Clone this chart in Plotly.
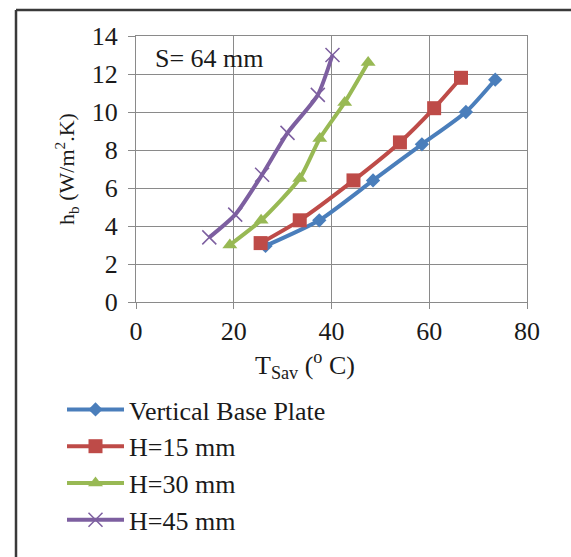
import plotly.graph_objects as go

series_names = ["Vertical Base Plate", "H=15 mm", "H=30 mm", "H=45 mm"]
x_vbp = [26.5, 37.5, 48.5, 58.5, 67.5, 73.5]
y_vbp = [2.95, 4.3, 6.4, 8.3, 10.0, 11.7]
x_h15 = [25.5, 33.5, 44.5, 54.0, 61.0, 66.5]
y_h15 = [3.1, 4.3, 6.4, 8.4, 10.2, 11.8]
x_h30 = [19.2, 25.6, 33.5, 37.6, 42.7, 47.5]
y_h30 = [3.0, 4.3, 6.5, 8.6, 10.5, 12.6]
x_h45 = [15.0, 20.3, 25.8, 31.0, 37.2, 40.2]
y_h45 = [3.4, 4.6, 6.7, 8.9, 10.9, 13.0]

x_ticks = [0, 20, 40, 60, 80]
y_ticks = [0, 2, 4, 6, 8, 10, 12, 14]
x_title = "T<sub>Sav</sub> (<sup>o</sup> C)"
y_title = "h<sub>b</sub> (W/m<sup>2</sup>.K)"
note = "S= 64 mm"

colors = ["#4A7EBB", "#BE4B48", "#98B954", "#7D5FA0"]
symbols = ["diamond", "square", "triangle-up", "x-thin-open"]
sizes = [11, 14, 13, 14]

fig = go.Figure()
data = [(x_vbp, y_vbp), (x_h15, y_h15), (x_h30, y_h30), (x_h45, y_h45)]
for i, (xs, ys) in enumerate(data):
    marker = dict(symbol=symbols[i], size=sizes[i], color=colors[i])
    if symbols[i] == "x-thin-open":
        marker["line"] = dict(color="#9C88BC", width=1.5)
    fig.add_trace(go.Scatter(
        x=xs, y=ys, mode="lines+markers", name=series_names[i],
        line=dict(color=colors[i], width=4, shape="spline", smoothing=0.6),
        marker=marker, legendgroup=f"g{i}",
    ))

font = "Liberation Serif"
fs = 26
W, H = 571, 557
L, R, T, B = 136, 44, 36, 255
pw, ph = W - L - R, H - T - B


def px(xp):
    return (xp - L) / pw


def py(yp):
    return (H - B - yp) / ph


fig.update_layout(
    width=W, height=H,
    margin=dict(l=L, r=R, t=T, b=B, autoexpand=False),
    paper_bgcolor="white", plot_bgcolor="white",
    font=dict(family=font, size=fs, color="#1a1a1a"),
    showlegend=True,
    legend=dict(
        xref="paper", yref="paper", x=px(62), y=py(386),
        xanchor="left", yanchor="top", font=dict(size=fs, family=font),
        tracegroupgap=0, itemwidth=57, bgcolor="rgba(0,0,0,0)",
    ),
    xaxis=dict(
        range=[0, 80], tickvals=x_ticks, showgrid=True, gridcolor="#8a8a8a",
        gridwidth=1.2, linecolor="#8a8a8a", linewidth=1.2, mirror=True,
        ticks="outside", ticklen=6, tickcolor="#8a8a8a", zeroline=False,
        tickfont=dict(size=fs, family=font),
    ),
    yaxis=dict(
        range=[0, 14], tickvals=y_ticks, showgrid=True, gridcolor="#8a8a8a",
        gridwidth=1.2, linecolor="#8a8a8a", linewidth=1.2, mirror=True,
        ticks="outside", ticklen=7, tickcolor="#8a8a8a", zeroline=False,
        tickfont=dict(size=fs, family=font), ticklabelstandoff=5,
    ),
    annotations=[
        dict(text=note, xref="x", yref="y", x=3.5, y=12.8,
             xanchor="left", yanchor="middle", showarrow=False,
             font=dict(size=fs, family=font)),
        dict(text=x_title, xref="paper", yref="paper", x=px(305), y=py(365),
             xanchor="center", yanchor="middle", showarrow=False,
             font=dict(size=fs, family=font)),
        dict(text=y_title, xref="paper", yref="paper", x=px(66), y=py(169),
             xanchor="center", yanchor="middle", showarrow=False,
             textangle=-90, font=dict(size=22, family=font)),
    ],
    shapes=[
        dict(type="line", xref="paper", yref="paper",
             x0=px(16), x1=px(W + 2), y0=py(10), y1=py(10),
             line=dict(color="#3a3a3a", width=2.5), layer="below"),
        dict(type="line", xref="paper", yref="paper",
             x0=px(16), x1=px(16), y0=py(10), y1=py(H + 2),
             line=dict(color="#3a3a3a", width=2.5), layer="below"),
    ],
)

fig.write_html("out.html")
